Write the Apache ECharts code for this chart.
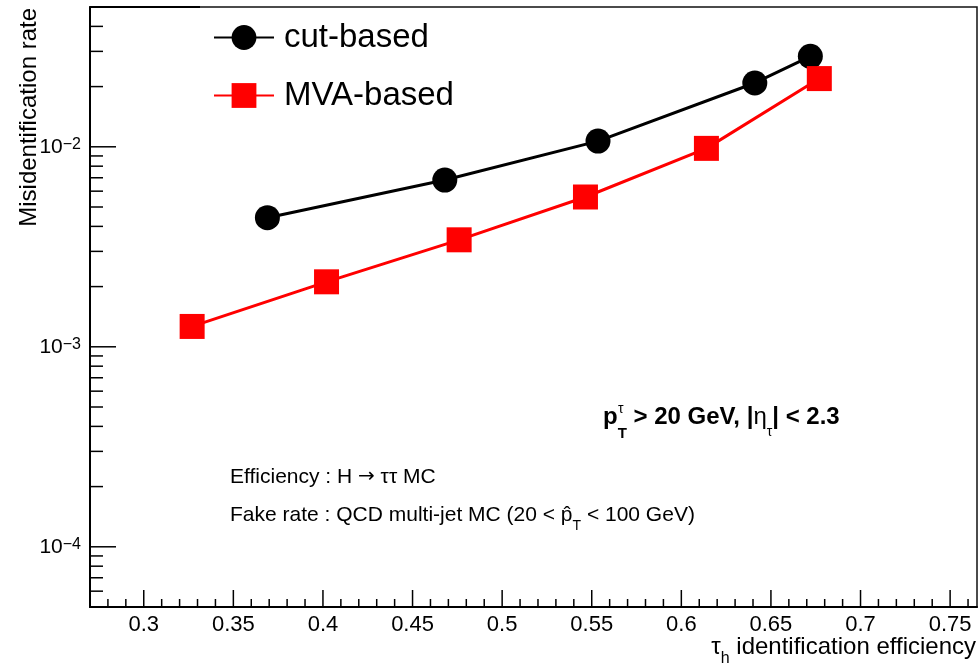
<!DOCTYPE html>
<html><head><meta charset="utf-8">
<script src="https://cdn.jsdelivr.net/npm/echarts@6/dist/echarts.min.js"></script>
<style>html,body{margin:0;padding:0;background:#fff}#c{width:979px;height:664px}</style>
</head><body><div id="c"></div>
<script>
// ---- data ----
const seriesNames = ['cut-based', 'MVA-based'];
const cutX = [0.369, 0.468, 0.5535, 0.641, 0.672];
const cutY = [0.00442, 0.00682, 0.01068, 0.02085, 0.02834];
const mvaX = [0.327, 0.402, 0.476, 0.5465, 0.614, 0.677];
const mvaY = [0.001264, 0.002113, 0.003427, 0.00561, 0.00982, 0.02193];

// ---- axes / ticks ----
const X_MIN = 0.27, X_MAX = 0.765;
const Y_MIN = 5e-5, Y_MAX = 0.05;
const xMajorTicks = [0.3, 0.35, 0.4, 0.45, 0.5, 0.55, 0.6, 0.65, 0.7, 0.75];
const xTickLabels = ['0.3', '0.35', '0.4', '0.45', '0.5', '0.55', '0.6', '0.65', '0.7', '0.75'];
const xMinorTicks = [0.28, 0.29, 0.31, 0.32, 0.33, 0.34, 0.36, 0.37, 0.38, 0.39, 0.41, 0.42, 0.43, 0.44,
  0.46, 0.47, 0.48, 0.49, 0.51, 0.52, 0.53, 0.54, 0.56, 0.57, 0.58, 0.59, 0.61, 0.62, 0.63, 0.64,
  0.66, 0.67, 0.68, 0.69, 0.71, 0.72, 0.73, 0.74, 0.76];
const yMajorTicks = [1e-4, 1e-3, 1e-2];
const yTickExponents = ['\u22124', '\u22123', '\u22122'];
const yMinorTicks = [6e-5, 7e-5, 8e-5, 9e-5, 2e-4, 3e-4, 4e-4, 5e-4, 6e-4, 7e-4, 8e-4, 9e-4,
  2e-3, 3e-3, 4e-3, 5e-3, 6e-3, 7e-3, 8e-3, 9e-3, 2e-2, 3e-2, 4e-2];

const FONT = "'Liberation Sans', Arial, Helvetica, sans-serif";

const chart = echarts.init(document.getElementById('c'), null, {renderer: 'canvas'});

const xTickData = xMajorTicks.map(v => [v, Y_MIN, 1]).concat(xMinorTicks.map(v => [v, Y_MIN, 0]));
const yTickData = yMajorTicks.map(v => [X_MIN, v, 1]).concat(yMinorTicks.map(v => [X_MIN, v, 0]));

function closestIndex(arr, v) {
  let bi = -1, bd = Infinity;
  arr.forEach((a, i) => { const d = Math.abs(Math.log(a) - Math.log(v)); if (d < bd) { bd = d; bi = i; } });
  return bd < 1e-6 ? bi : -1;
}

const option = {
  animation: false,
  backgroundColor: '#fff',
  grid: {left: 90, top: 7, right: 2, bottom: 57, show: true, borderColor: '#111', borderWidth: 1.5, backgroundColor: 'transparent'},
  xAxis: {
    type: 'value', min: X_MIN, max: X_MAX,
    axisLine: {show: true, onZero: false, lineStyle: {color: '#000', width: 2}},
    axisTick: {show: false},
    splitLine: {show: false},
    axisLabel: {
      customValues: xMajorTicks,
      formatter: v => { const i = xMajorTicks.findIndex(t => Math.abs(t - v) < 1e-9); return i >= 0 ? xTickLabels[i] : ''; },
      fontSize: 22, fontFamily: FONT, color: '#000', margin: 7
    }
  },
  yAxis: {
    type: 'log', logBase: 10, min: Y_MIN, max: Y_MAX,
    axisLine: {show: true, lineStyle: {color: '#000', width: 2}},
    axisTick: {show: false},
    splitLine: {show: false},
    minorTick: {show: false},
    axisLabel: {
      showMinLabel: false, showMaxLabel: false,
      formatter: v => { const i = closestIndex(yMajorTicks, v); return i >= 0 ? '{b|10}{s|' + yTickExponents[i] + '}' : ''; },
      margin: 9, color: '#000',
      rich: {
        b: {fontSize: 21, fontFamily: FONT, color: '#000', lineHeight: 21, verticalAlign: 'bottom', padding: [5, 0, 0, 0]},
        s: {fontSize: 16, fontFamily: FONT, color: '#000', lineHeight: 16, verticalAlign: 'top'}
      }
    }
  },
  legend: {
    data: seriesNames, orient: 'vertical', left: 213, top: 21, padding: 0,
    itemWidth: 60, itemHeight: 31, itemGap: 25, selectedMode: false,
    textStyle: {fontSize: 33, lineHeight: 31, fontFamily: FONT, color: '#000', padding: [0, 0, 0, 5]}
  },
  series: [
    {
      name: seriesNames[0], type: 'line', z: 3,
      data: cutX.map((x, i) => [x, cutY[i]]),
      symbol: 'circle', symbolSize: 25,
      itemStyle: {color: '#000'}, lineStyle: {color: '#000', width: 3},
      emphasis: {disabled: true}
    },
    {
      name: seriesNames[1], type: 'line', z: 4,
      data: mvaX.map((x, i) => [x, mvaY[i]]),
      symbol: 'rect', symbolSize: 25,
      itemStyle: {color: '#ff0000'}, lineStyle: {color: '#ff0000', width: 3},
      emphasis: {disabled: true}
    },
    {
      type: 'custom', silent: true, z: 5, clip: false,
      data: xTickData, encode: {x: 0, y: 1},
      renderItem: (params, api) => {
        const p = api.coord([api.value(0), Y_MIN]);
        const len = api.value(2) ? 17 : 8;
        return {type: 'line', shape: {x1: p[0], y1: p[1], x2: p[0], y2: p[1] - len}, style: {stroke: '#000', lineWidth: 1.5}};
      }
    },
    {
      type: 'custom', silent: true, z: 5, clip: false,
      data: yTickData, encode: {x: 0, y: 1},
      renderItem: (params, api) => {
        const p = api.coord([X_MIN, api.value(1)]);
        const len = api.value(2) ? 26 : 13;
        return {type: 'line', shape: {x1: p[0], y1: p[1], x2: p[0] + len, y2: p[1]}, style: {stroke: '#000', lineWidth: 1.5}};
      }
    }
  ],
  graphic: [
    // axis titles
    {type: 'text', x: 29, y: 8, rotation: Math.PI / 2, silent: true,
      style: {text: 'Misidentification rate', font: '24px ' + FONT, fill: '#000', align: 'right', verticalAlign: 'middle'}},
    {type: 'text', x: 976, y: 648, silent: true,
      style: {text: '{r|\u03c4}{s|h}{r| identification efficiency}', align: 'right', verticalAlign: 'middle',
        rich: {
          r: {fontSize: 24, fontFamily: FONT, fill: '#000', lineHeight: 25, verticalAlign: 'top'},
          s: {fontSize: 16, fontFamily: FONT, fill: '#000', lineHeight: 16, verticalAlign: 'top', padding: [15, 0, 0, 0]}
        }}},
    // top frame edge segment
    {type: 'line', silent: true, shape: {x1: 90, y1: 7, x2: 200, y2: 7}, style: {stroke: '#000', lineWidth: 2}},
    // annotations
    {type: 'text', x: 603, y: 405, silent: true,
      style: {text: '{b|p}{t|T}{b| > 20 GeV, |}{n|\u03b7}{u|\u03c4}{b|| < 2.3}', align: 'left', verticalAlign: 'top',
        rich: {
          b: {fontSize: 24, fontFamily: FONT, fontWeight: 'bold', fill: '#000', lineHeight: 28, verticalAlign: 'top'},
          n: {fontSize: 24, fontFamily: FONT, fill: '#000', lineHeight: 28, verticalAlign: 'top'},
          t: {fontSize: 15, fontFamily: FONT, fontWeight: 'bold', fill: '#000', lineHeight: 15, verticalAlign: 'top', padding: [21, 0, 0, 0]},
          u: {fontSize: 14, fontFamily: FONT, fill: '#000', lineHeight: 14, verticalAlign: 'top', padding: [20, 0, 0, 0]}
        }}},
    {type: 'text', x: 618, y: 409, silent: true,
      style: {text: '\u03c4', font: '14px ' + FONT, fill: '#000', align: 'left', verticalAlign: 'middle'}},
    {type: 'text', x: 230, y: 466, silent: true,
      style: {text: '{r|Efficiency : H }{a|\u2192}{r| \u03c4\u03c4 MC}', align: 'left', verticalAlign: 'top',
        rich: {
          r: {fontSize: 21, fontFamily: FONT, fill: '#000', lineHeight: 22, verticalAlign: 'middle'},
          a: {fontSize: 20, fontFamily: "'DejaVu Sans', sans-serif", fill: '#000', lineHeight: 22, verticalAlign: 'middle'}
        }}},
    {type: 'text', x: 230, y: 505, silent: true,
      style: {text: '{r|Fake rate : QCD multi-jet MC (20 < p\u0302}{s|T}{r| < 100 GeV)}', align: 'left', verticalAlign: 'top',
        rich: {
          r: {fontSize: 21, fontFamily: FONT, fill: '#000', lineHeight: 22, verticalAlign: 'top'},
          s: {fontSize: 14, fontFamily: FONT, fill: '#000', lineHeight: 14, verticalAlign: 'top', padding: [14, 0, 0, 0]}
        }}}
  ]
};
chart.setOption(option);
</script>
</body></html>
